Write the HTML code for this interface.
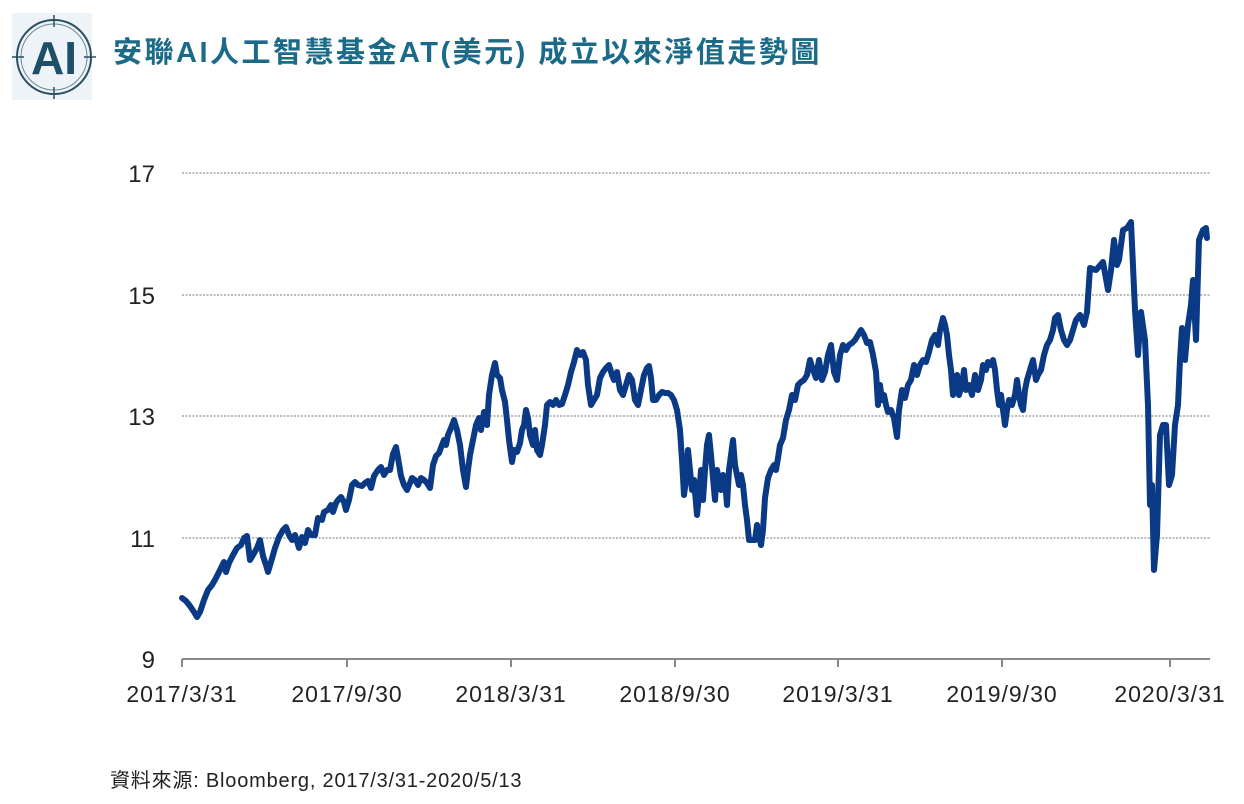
<!DOCTYPE html>
<html><head><meta charset="utf-8"><style>
body{margin:0;background:#fff;width:1244px;height:804px;overflow:hidden;font-family:"Liberation Sans","Noto Sans CJK TC",sans-serif;}
</style></head><body>
<svg width="1244" height="804" xmlns="http://www.w3.org/2000/svg" style="position:absolute;left:0;top:0">
<rect x="12" y="13" width="80" height="87" fill="#eef3f8"/>
<circle cx="54" cy="57" r="37" fill="none" stroke="#2a4f60" stroke-width="2"/>
<circle cx="54" cy="57" r="33" fill="none" stroke="#6c8894" stroke-width="1"/>
<line x1="54" y1="15" x2="54" y2="27" stroke="#2a4f60" stroke-width="1.5"/>
<line x1="54" y1="87" x2="54" y2="99" stroke="#2a4f60" stroke-width="1.5"/>
<line x1="12" y1="57" x2="24" y2="57" stroke="#2a4f60" stroke-width="1.5"/>
<line x1="84" y1="57" x2="96" y2="57" stroke="#2a4f60" stroke-width="1.5"/>
<text x="54" y="74" text-anchor="middle" font-family="Liberation Sans,sans-serif" font-weight="bold" font-size="46" fill="#1d5068">AI</text>
<text x="113" y="62" font-family="Liberation Sans,'Noto Sans CJK TC',sans-serif" font-weight="bold" font-size="29" letter-spacing="2.5" fill="#1a6a88">安聯AI人工智慧基金AT(美元)  成立以來淨值走勢圖</text>
<g stroke="#777" stroke-width="1" stroke-dasharray="2,1.5">
<line x1="182" y1="173" x2="1210" y2="173"/>
<line x1="182" y1="295" x2="1210" y2="295"/>
<line x1="182" y1="416" x2="1210" y2="416"/>
<line x1="182" y1="538" x2="1210" y2="538"/>
</g>
<g stroke="#888" stroke-width="2">
<line x1="182" y1="659" x2="1210" y2="659"/>
<line x1="182" y1="659" x2="182" y2="667"/>
<line x1="347" y1="659" x2="347" y2="667"/>
<line x1="511" y1="659" x2="511" y2="667"/>
<line x1="675" y1="659" x2="675" y2="667"/>
<line x1="838" y1="659" x2="838" y2="667"/>
<line x1="1002" y1="659" x2="1002" y2="667"/>
<line x1="1170" y1="659" x2="1170" y2="667"/>
</g>
<g font-family="Liberation Sans,sans-serif" font-size="24" fill="#222" text-anchor="end">
<text x="155" y="182">17</text><text x="155" y="304">15</text><text x="155" y="425">13</text><text x="155" y="547">11</text><text x="155" y="668">9</text>
</g>
<g font-family="Liberation Sans,sans-serif" font-size="23" letter-spacing="1" fill="#222" text-anchor="middle">
<text x="182" y="702">2017/3/31</text><text x="347" y="702">2017/9/30</text><text x="511" y="702">2018/3/31</text><text x="675" y="702">2018/9/30</text><text x="838" y="702">2019/3/31</text><text x="1002" y="702">2019/9/30</text><text x="1170" y="702">2020/3/31</text>
</g>
<text x="110" y="787" font-family="Liberation Sans,'Noto Sans CJK TC',sans-serif" font-size="20" letter-spacing="0.8" fill="#222">資料來源: Bloomberg, 2017/3/31-2020/5/13</text>
<polyline fill="none" stroke="#0a3a85" stroke-width="6" stroke-linejoin="round" stroke-linecap="round" points="182,598 186,601 190,606 194,612 197,617 200,612 204,600 208,590 212,585 216,578 220,570 224,562 226,572 229,563 233,555 237,548 241,545 244,538 247,536 250,560 253,555 257,548 260,540 263,556 266,565 268,572 271,562 275,548 279,537 283,530 286,527 289,535 292,540 295,535 299,548 302,537 305,543 308,530 311,535 315,535 318,518 322,520 324,512 328,510 331,505 333,512 336,503 338,500 341,497 344,502 346,510 349,500 352,485 355,482 358,485 362,486 365,483 368,481 371,488 374,476 378,470 381,467 384,475 387,470 390,470 393,454 396,447 398,458 401,476 404,485 407,490 410,483 412,478 415,480 418,485 421,478 424,480 427,483 430,488 433,465 436,456 439,453 442,445 444,440 446,445 448,435 451,428 454,420 457,430 460,445 463,470 466,487 468,470 470,455 473,440 476,425 479,418 481,430 484,412 487,425 489,395 492,375 495,363 497,375 500,378 502,390 505,402 507,420 509,440 512,462 514,450 517,452 520,443 522,430 524,425 526,410 528,418 530,435 533,445 535,430 537,450 540,455 542,445 545,425 547,405 550,402 553,405 556,400 559,405 562,404 565,395 568,385 571,372 574,362 577,350 580,355 583,352 586,360 588,385 591,405 594,400 597,395 600,378 603,372 606,368 609,365 612,375 614,380 617,372 620,390 623,395 626,385 629,375 632,380 635,400 638,405 641,390 644,375 647,368 649,366 651,378 653,400 656,400 659,395 662,392 665,393 668,393 671,395 674,400 677,410 680,430 682,460 684,495 686,480 688,450 690,470 692,490 694,480 697,515 699,495 701,470 703,500 705,470 707,445 709,435 711,455 713,478 715,500 717,470 719,480 721,490 723,475 725,480 727,505 729,470 731,455 733,440 735,465 737,475 739,485 741,475 743,485 745,505 747,520 749,540 752,540 755,540 757,525 759,535 761,545 763,530 765,498 768,478 771,470 774,465 776,470 778,458 780,445 783,438 786,420 789,410 792,395 795,400 798,385 801,382 804,380 807,375 810,360 813,370 816,378 819,360 822,380 825,372 828,355 831,345 834,372 837,380 840,355 843,345 846,350 849,345 852,343 855,340 858,335 861,330 864,335 867,343 870,342 873,355 876,372 878,405 880,385 882,400 884,395 886,405 888,412 891,410 894,418 897,437 899,410 902,390 905,398 908,385 911,380 914,365 917,375 920,365 923,360 926,362 929,352 932,340 935,335 938,345 940,330 943,318 945,325 947,335 949,355 951,370 953,395 955,385 957,375 959,395 962,385 964,370 966,390 969,385 972,395 975,375 978,390 981,380 983,365 986,370 988,362 991,365 993,360 995,370 997,390 999,405 1001,395 1003,410 1005,425 1007,410 1009,400 1012,405 1015,395 1017,380 1019,395 1021,405 1023,410 1025,390 1027,380 1030,370 1033,360 1036,380 1038,375 1041,370 1044,355 1047,345 1050,340 1053,330 1055,318 1058,315 1061,330 1064,340 1067,345 1070,340 1073,330 1076,320 1080,315 1084,325 1087,312 1090,268 1096,270 1103,262 1108,290 1111,270 1114,240 1117,265 1119,260 1123,230 1127,228 1131,222 1135,310 1138,355 1141,312 1145,340 1148,405 1150,505 1152,485 1154,570 1157,535 1160,435 1163,425 1166,425 1169,485 1172,475 1175,425 1178,405 1180,360 1182,328 1185,360 1188,325 1191,305 1193,280 1196,340 1199,240 1203,230 1206,228 1207,238"/>
</svg>
</body></html>
